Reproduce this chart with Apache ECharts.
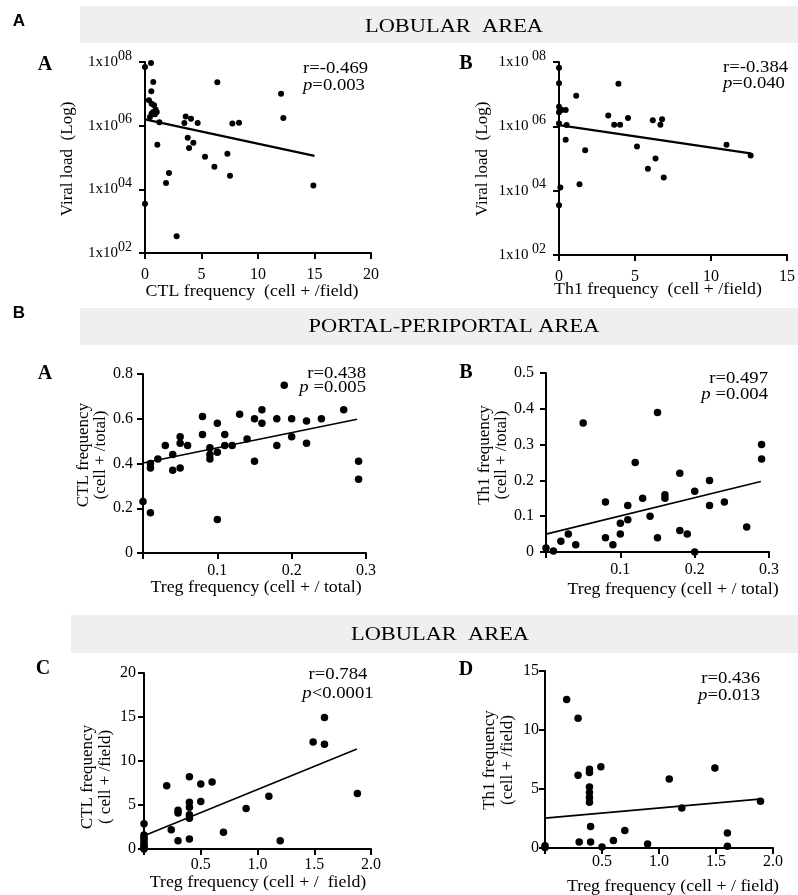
<!DOCTYPE html>
<html>
<head>
<meta charset="utf-8">
<script src="https://cdn.jsdelivr.net/npm/echarts@6/dist/echarts.min.js"></script>
<style>html,body{margin:0;padding:0;background:#fff;}#c{width:798px;height:895px;}</style>
</head>
<body>
<div id="c"></div>
<script>
// ---------- DATA ----------
// Panel A-A (Lobular): CTL frequency vs viral load (log10 of copies)
const p1X = [0, 0.53, 0.73, 0.56, 0.35, 0.59, 0.8, 0.95, 0.73, 1.04, 0.59, 0.88, 0.44, 1.27,
  1.09, 0, 1.86, 2.12, 2.8, 3.6, 3.48, 4.07, 4.66, 3.78, 4.28, 3.9, 5.31, 6.14, 6.4, 7.29, 7.52, 7.73, 8.32, 12.04, 12.24, 14.9];
const p1LogVL = [7.84, 7.97, 7.37, 7.08, 6.80, 6.69, 6.64, 6.50, 6.43, 6.43, 6.38, 6.36, 6.27, 6.11,
  5.40, 3.55, 4.20, 4.51, 2.53, 6.29, 6.08, 6.22, 6.08, 5.62, 5.46, 5.30, 5.02, 4.71, 7.36, 5.12, 4.43, 6.07, 6.09, 7.00, 6.24, 4.12];
const p1FitX = [0, 15];
const p1FitY = [6.2, 5.05];

// Panel A-B (Lobular): Th1 frequency vs viral load
const p2X = [0, 0, 0, 0.07, 0.17, 0.44, 0, 0, 0.5, 0.44, 1.13, 1.72, 1.35, 0.09, 0, 3.24, 3.63, 4.02, 3.91, 4.54,
  5.13, 5.85, 6.17, 6.35, 6.67, 6.78, 6.89, 11.02, 12.61];
const p2LogVL = [7.82, 7.34, 6.61, 6.54, 6.51, 6.51, 6.44, 6.09, 6.04, 5.58, 6.95, 5.26, 4.20, 4.10, 3.55, 6.34, 6.05, 6.05, 7.32, 6.26,
  5.37, 4.68, 6.19, 5.00, 6.05, 6.22, 4.41, 5.43, 5.09];
const p2FitX = [0, 12.6];
const p2FitY = [6.04, 5.16];

// Panel B-A (Portal-periportal): Treg vs CTL (cell+/total)
const p3X = [0, 0.01, 0.01, 0.01, 0.02, 0.03, 0.04, 0.04, 0.05, 0.05, 0.05, 0.06, 0.08, 0.08, 0.09, 0.09, 0.09, 0.1, 0.1, 0.1,
  0.11, 0.11, 0.12, 0.13, 0.14, 0.15, 0.15, 0.16, 0.16, 0.18, 0.18, 0.19, 0.2, 0.2, 0.22, 0.22, 0.24, 0.27, 0.29, 0.29];
const p3Y = [0.23, 0.18, 0.40, 0.38, 0.42, 0.48, 0.44, 0.37, 0.52, 0.49, 0.38, 0.48, 0.61, 0.53, 0.47, 0.44, 0.42, 0.58, 0.45, 0.15,
  0.53, 0.48, 0.48, 0.62, 0.51, 0.60, 0.41, 0.64, 0.58, 0.60, 0.48, 0.75, 0.60, 0.52, 0.59, 0.49, 0.60, 0.64, 0.41, 0.33];
const p3FitX = [0, 0.288];
const p3FitY = [0.402, 0.598];

// Panel B-B (Portal-periportal): Treg vs Th1 (cell+/total)
const p4X = [0, 0.01, 0.02, 0.03, 0.04, 0.05, 0.08, 0.08, 0.09, 0.1, 0.1, 0.12, 0.11, 0.11, 0.13, 0.14, 0.15, 0.15,
  0.16, 0.16, 0.18, 0.18, 0.19, 0.2, 0.2, 0.22, 0.22, 0.24, 0.27, 0.29, 0.29];
const p4Y = [0.011, 0.003, 0.03, 0.05, 0.02, 0.36, 0.14, 0.04, 0.02, 0.08, 0.05, 0.25, 0.13, 0.09, 0.15, 0.10, 0.39, 0.04,
  0.16, 0.15, 0.22, 0.06, 0.05, 0.17, 0.0, 0.20, 0.13, 0.14, 0.07, 0.30, 0.26];
const p4FitX = [0, 0.289];
const p4FitY = [0.05, 0.197];

// Panel C (Lobular): Treg vs CTL (cell+/field)
const p5X = [0, 0, 0, 0, 0, 0, 0, 0, 0, 0.2, 0.24, 0.3, 0.3, 0.3, 0.4, 0.4, 0.4, 0.4, 0.4, 0.4,
  0.5, 0.5, 0.6, 0.7, 0.9, 1.1, 1.2, 1.49, 1.59, 1.59, 1.88];
const p5Y = [2.87, 1.6, 1.3, 1.1, 0.8, 0.5, 0.3, 0.1, 0, 7.2, 2.2, 4.4, 4.1, 0.94, 8.2, 5.3, 4.75, 3.9, 3.5, 1.13,
  7.4, 5.4, 7.6, 1.9, 4.6, 6.0, 0.94, 12.15, 14.94, 11.9, 6.3];
const p5FitX = [0, 1.876];
const p5FitY = [1.5, 11.36];

// Panel D (Lobular): Treg vs Th1 (cell+/field)
const p6X = [0, 0, 0.19, 0.29, 0.29, 0.3, 0.39, 0.39, 0.39, 0.39, 0.39, 0.39, 0.4, 0.4, 0.49, 0.5, 0.6, 0.7, 0.9,
  1.09, 1.2, 1.49, 1.6, 1.6, 1.89];
const p6Y = [0.2, 0.05, 12.58, 11.0, 6.17, 0.51, 6.67, 6.39, 5.17, 4.7, 4.27, 3.87, 1.82, 0.51, 6.89, 0.08, 0.64, 1.49, 0.34,
  5.85, 3.38, 6.78, 1.27, 0.14, 3.97];
const p6FitX = [0, 1.88];
const p6FitY = [2.53, 4.14];

// Tick settings
const xTicks = [[0, 20, 5], [0, 15, 5], [0, 0.3, 0.1], [0, 0.3, 0.1], [0, 2, 0.5], [0, 2, 0.5]];
const yTicks = [[2, 8, 2], [2, 8, 2], [0, 0.8, 0.2], [0, 0.5, 0.1], [0, 20, 5], [0, 15, 5]];

// Stats
const stats = [
  ['r=-0.469', 'p', '=0.003'],
  ['r=-0.384', 'p', '=0.040'],
  ['r=0.438', 'p', ' =0.005'],
  ['r=0.497', 'p', ' =0.004'],
  ['r=0.784', 'p', '<0.0001'],
  ['r=0.436', 'p', '=0.013']
];
const panelLetters = ['A', 'B', 'A', 'B', 'C', 'D'];
const xTitles = ['CTL frequency  (cell + /field)', 'Th1 frequency  (cell + /field)',
  'Treg frequency (cell + / total)', 'Treg frequency (cell + / total)',
  'Treg frequency (cell + /  field)', 'Treg frequency (cell + / field)'];
const yTitles = ['Viral load  (Log)', 'Viral load  (Log)', 'CTL frequency\n(cell + /total)',
  'Th1 frequency\n(cell + /total)', 'CTL frequency\n( cell + /field)', 'Th1 frequency\n(cell + /field)'];
const headers = ['LOBULAR  AREA', 'PORTAL-PERIPORTAL AREA', 'LOBULAR  AREA'];
const sectionLetters = ['A', 'B'];

// ---------- LAYOUT ----------
const FONT = 'Liberation Serif';
const INK = '#000';
const grids = [
  {left: 145, top: 62, width: 226, height: 191},
  {left: 559, top: 62, width: 231, height: 193},
  {left: 143, top: 374, width: 223, height: 179},
  {left: 546, top: 373, width: 223, height: 179},
  {left: 144, top: 673, width: 227, height: 176},
  {left: 545, top: 671, width: 228, height: 177}
];
const labelMargins = [[14, 13], [14, 13], [10, 10], [10, 12], [8, 8], [6, 6]];
const symSizes = [6, 6, 7.5, 7.5, 7.5, 7.5];
const fitWidths = [2.2, 2.2, 1.6, 1.6, 1.6, 1.6];

const xs = [p1X, p2X, p3X, p4X, p5X, p6X];
const ys = [p1LogVL, p2LogVL, p3Y, p4Y, p5Y, p6Y];
const fxs = [p1FitX, p2FitX, p3FitX, p4FitX, p5FitX, p6FitX];
const fys = [p1FitY, p2FitY, p3FitY, p4FitY, p5FitY, p6FitY];

const xAxes = [], yAxes = [], series = [];
for (let i = 0; i < 6; i++) {
  const [xmin, xmax, xint] = xTicks[i];
  const [ymin, ymax, yint] = yTicks[i];
  const common = {
    splitLine: {show: false},
    axisLine: {show: true, lineStyle: {color: INK, width: 2}},
    axisTick: {show: true, length: 6, lineStyle: {color: INK, width: 2}}
  };
  xAxes.push(Object.assign({
    type: 'value', gridIndex: i, min: xmin, max: xmax, interval: xint,
    axisLabel: {
      color: INK, fontFamily: FONT, fontSize: 16, margin: labelMargins[i][0],
      formatter: function (v) {
        if (i >= 2 && v === 0) return '';
        if (i >= 2) return v.toFixed(1);
        return String(v);
      }
    }
  }, common));
  const yLab = {
    color: INK, fontFamily: FONT, fontSize: 16, margin: labelMargins[i][1],
    formatter: function (v) {
      if (i < 2) return '{b|1x10}{s|' + (i === 1 ? ' ' : '') + '0' + Math.round(v) + '}';
      if (i === 2 || i === 3) return v === 0 ? '0' : v.toFixed(1);
      return String(v);
    }
  };
  if (i < 2) {
    yLab.rich = {
      b: {fontFamily: FONT, fontSize: 15, color: INK},
      s: {fontFamily: FONT, fontSize: 14, color: INK, padding: [0, 0, 12, 0]}
    };
  }
  yAxes.push(Object.assign({
    type: 'value', gridIndex: i, min: ymin, max: ymax, interval: yint, axisLabel: yLab
  }, common));
  series.push({
    type: 'line', xAxisIndex: i, yAxisIndex: i, symbol: 'none', silent: true,
    lineStyle: {color: INK, width: fitWidths[i]},
    data: fxs[i].map((x, k) => [x, fys[i][k]]), z: 3
  });
  series.push({
    type: 'scatter', xAxisIndex: i, yAxisIndex: i, symbol: 'circle', symbolSize: symSizes[i],
    clip: false, itemStyle: {color: INK, opacity: 1},
    data: xs[i].map((x, k) => [x, ys[i][k]]), z: 4
  });
}

// ---------- GRAPHIC TEXT ----------
const graphic = [];
function txt(x, y, text, o) {
  o = o || {};
  graphic.push({
    type: 'text', x: x, y: y, rotation: o.rot || 0, scaleX: o.sx || 1, z: 10,
    style: {
      text: text, fill: o.fill || INK,
      fontFamily: o.ff || FONT, fontSize: o.fs || 17, fontWeight: o.fw || 'normal',
      align: o.align || 'center', verticalAlign: 'middle',
      lineHeight: o.lh || undefined, rich: o.rich || undefined
    }
  });
}
// header bands
const bands = [[80, 6, 718, 37], [80, 308, 718, 37], [71, 615, 727, 38]];
bands.forEach(b => graphic.push({type: 'rect', z: 1, shape: {x: b[0], y: b[1], width: b[2], height: b[3]}, style: {fill: '#efefef'}}));
txt(454, 27, headers[0], {fs: 19, sx: 1.18});
txt(454, 327, headers[1], {fs: 19, sx: 1.18});
txt(440, 635, headers[2], {fs: 19, sx: 1.18});
txt(19, 21, sectionLetters[0], {ff: 'Liberation Sans', fw: 'bold', fs: 17});
txt(19, 313, sectionLetters[1], {ff: 'Liberation Sans', fw: 'bold', fs: 17});

// panel letters
const letterPos = [[45, 65], [466, 64], [45, 374], [466, 373], [43, 669], [466, 670]];
letterPos.forEach((p, i) => txt(p[0], p[1], panelLetters[i], {fw: 'bold', fs: 20}));

// stats
const statPos = [
  {x: 303, y1: 69, y2: 86, align: 'left'},
  {x: 723, y1: 68, y2: 84, align: 'left'},
  {x: 366, y1: 374, y2: 388, align: 'right'},
  {x: 768, y1: 379, y2: 395, align: 'right'},
  {x: 338, y1: 675, y2: 694, align: 'center'},
  {x: 760, y1: 679, y2: 696, align: 'right'}
];
const statRich = {
  i: {fontFamily: FONT, fontSize: 17, fontStyle: 'italic', fill: INK},
  n: {fontFamily: FONT, fontSize: 17, fill: INK}
};
statPos.forEach((s, i) => {
  txt(s.x, s.y1, stats[i][0], {align: s.align, fs: 17, sx: 1.1});
  txt(s.x, s.y2, '{i|' + stats[i][1] + '}{n|' + stats[i][2] + '}', {align: s.align, fs: 17, sx: 1.1, rich: statRich});
});

// axis titles
const xTitlePos = [[252, 292], [658, 290], [256, 588], [673, 590], [258, 883], [673, 887]];
xTitlePos.forEach((p, i) => txt(p[0], p[1], xTitles[i], {fs: 17, sx: 1.05}));
const yTitlePos = [[68, 159], [483, 159], [92, 455], [493, 455], [97, 777], [499, 760]];
yTitlePos.forEach((p, i) => txt(p[0], p[1], yTitles[i], {fs: 17, rot: Math.PI / 2, lh: i >= 4 ? 18 : 17}));

const chart = echarts.init(document.getElementById('c'), null, {renderer: 'canvas'});
chart.setOption({
  animation: false,
  backgroundColor: '#ffffff',
  grid: grids.map(g => Object.assign({containLabel: false}, g)),
  xAxis: xAxes,
  yAxis: yAxes,
  series: series,
  graphic: graphic
});
</script>
</body>
</html>
